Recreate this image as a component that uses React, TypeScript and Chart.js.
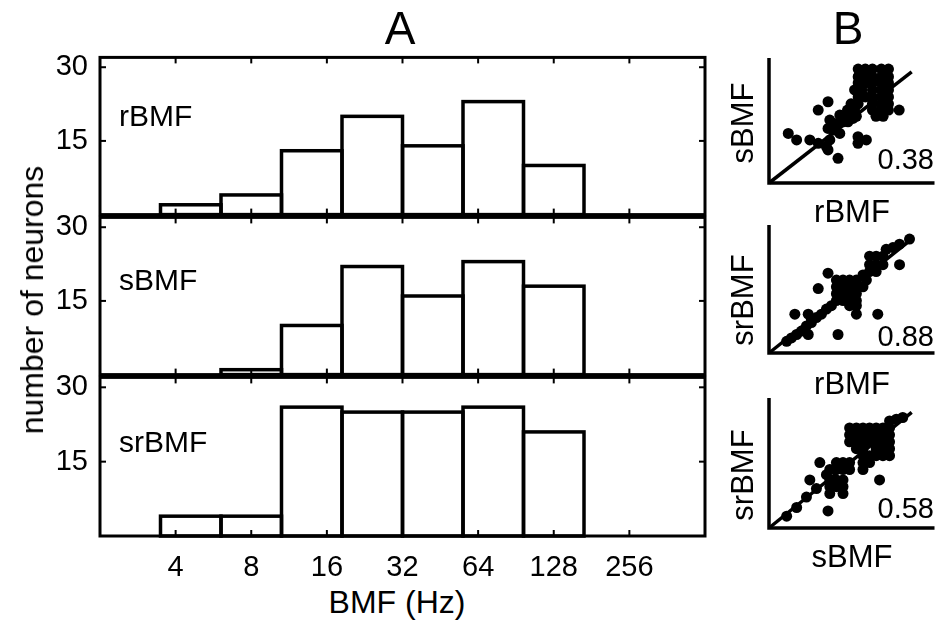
import React, { useEffect, useRef } from "react";
import { Chart, registerables } from "chart.js";

Chart.register(...registerables);

const FONT = "'Liberation Sans', Arial, Helvetica, sans-serif";

// ---- Panel A data (x in log2(BMF)) ----
const BIN_CENTERS = [2.2, 3.0, 3.8, 4.6, 5.4, 6.2, 7.0];
const X_TICKS = [2, 3, 4, 5, 6, 7, 8];
const X_TICK_LABELS = ["4", "8", "16", "32", "64", "128", "256"];
const Y_TICKS = [15, 30];
const R_BMF = [2, 4, 13, 20, 14, 23, 10];
const S_BMF = [0, 1, 10, 22, 16, 23, 18];
const SR_BMF = [4, 4, 26, 25, 25, 26, 21];

// ---- Panel B data ----
const IDENTITY = [0, 8];
const R_VS_S: number[][] = [
  [5.0, 8.2], [5.4, 8.2], [5.8, 8.2], [6.3, 8.2], [6.7, 8.2],
  [5.0, 7.65], [5.4, 7.65], [5.8, 7.65], [6.3, 7.65], [6.7, 7.65],
  [5.0, 7.2], [5.4, 7.2], [5.8, 7.2], [6.3, 7.2], [6.7, 7.2],
  [4.8, 6.7], [5.2, 6.7], [5.8, 6.7], [6.3, 6.7], [6.7, 6.7],
  [5.0, 6.2], [5.4, 6.2], [5.8, 6.2], [6.3, 6.2], [6.7, 6.2],
  [4.6, 5.7], [5.0, 5.7], [5.8, 5.7], [6.3, 5.7], [6.7, 5.7],
  [4.4, 5.25], [4.8, 5.25], [5.8, 5.25], [6.3, 5.25], [6.7, 5.25], [7.3, 5.25],
  [4.3, 4.8], [4.9, 4.8], [6.0, 4.8], [6.4, 4.8],
  [3.97, 4.89], [4.16, 4.41], [4.43, 4.41], [4.71, 4.65], [3.78, 4.29],
  [3.31, 3.93], [3.6, 3.81], [3.41, 4.53], [2.76, 5.25], [3.31, 5.85],
  [3.97, 3.57], [3.41, 3.1], [4.99, 3.33], [4.99, 2.86], [5.46, 3.1],
  [1.08, 3.57], [1.55, 3.1], [2.29, 3.1], [2.76, 2.86], [3.22, 2.62],
  [3.31, 2.38], [3.87, 1.78],
];
const R_VS_SR: number[][] = [
  [0.99, 0.82], [1.26, 1.06], [1.55, 1.3], [1.82, 1.54], [2.1, 1.9], [2.38, 2.14],
  [2.66, 2.49], [2.94, 2.73], [3.22, 3.09], [3.5, 3.33], [3.78, 3.69], [3.97, 4.05], [4.24, 4.29],
  [3.78, 5.13], [4.15, 5.13], [4.52, 5.13], [4.9, 5.13],
  [3.78, 4.65], [4.15, 4.65], [4.52, 4.65], [4.9, 4.65],
  [3.78, 4.17], [4.15, 4.17], [4.52, 4.17], [4.9, 4.17],
  [4.15, 3.69], [4.52, 3.69], [4.9, 3.69], [4.52, 3.33], [4.9, 3.33],
  [5.64, 6.81], [6.01, 6.81], [5.64, 6.21], [6.01, 6.21], [6.39, 6.21],
  [5.64, 5.73], [6.01, 5.73], [5.27, 5.49], [5.46, 5.13], [5.27, 4.65],
  [6.57, 7.29], [6.95, 7.41], [7.32, 7.65], [7.88, 8.01], [7.32, 6.21], [6.39, 6.81],
  [3.31, 5.61], [2.76, 4.53], [1.45, 2.73], [4.9, 2.73], [6.1, 2.73],
  [2.2, 1.3], [3.87, 1.3], [2.2, 2.73], [2.38, 2.38],
];
const S_VS_SR: number[][] = [
  [4.52, 6.93], [4.9, 6.93], [5.27, 6.93], [5.64, 6.93], [6.01, 6.93], [6.39, 6.93], [6.76, 6.93],
  [4.52, 6.45], [4.9, 6.45], [5.27, 6.45], [5.64, 6.45], [6.01, 6.45], [6.39, 6.45], [6.76, 6.45],
  [4.52, 5.97], [4.9, 5.97], [5.27, 5.97], [5.64, 5.97], [6.01, 5.97], [6.39, 5.97], [6.76, 5.97],
  [4.9, 5.49], [5.27, 5.49], [6.01, 5.49], [6.39, 5.49], [6.76, 5.49],
  [5.27, 5.01], [5.64, 5.01], [6.01, 5.01], [6.39, 5.01], [6.76, 5.01],
  [4.15, 4.53], [4.52, 4.53], [5.27, 4.53], [5.64, 4.53],
  [3.78, 4.05], [4.15, 4.05], [4.52, 4.05], [5.27, 4.05],
  [6.76, 7.41], [7.14, 7.53], [7.5, 7.65],
  [3.78, 4.53], [3.41, 4.05], [3.22, 3.69], [3.41, 3.33], [3.78, 3.33], [4.15, 3.33],
  [3.41, 2.86], [3.78, 2.86], [4.15, 2.86], [3.41, 2.38], [4.15, 2.38],
  [2.85, 4.53], [2.29, 3.33], [6.2, 3.33], [3.31, 1.18],
  [1.55, 1.42], [2.1, 2.14], [2.66, 2.73], [0.99, 0.82],
];

const histPlugin = {
  id: "histFrame",
  afterDraw(chart: any, _args: any, opts: any) {
    const { ctx, chartArea: a } = chart;
    const x = chart.scales.x;
    const y = chart.scales.y;
    const meta = chart.getDatasetMeta(0);
    const data = chart.data.datasets[0].data as any[];
    ctx.save();
    ctx.strokeStyle = "#000";
    ctx.lineJoin = "miter";
    ctx.lineWidth = 3.5;
    meta.data.forEach((el: any, i: number) => {
      if (!data[i] || !data[i].y) return;
      const p = el.getProps(["x", "y", "base", "width"], true);
      ctx.strokeRect(p.x - p.width / 2, p.y, p.width, p.base - p.y);
    });
    ctx.lineWidth = 3;
    ctx.strokeRect(a.left, a.top, a.right - a.left, a.bottom - a.top);
    ctx.lineWidth = 2;
    const line = (x1: number, y1: number, x2: number, y2: number) => {
      ctx.beginPath();
      ctx.moveTo(x1, y1);
      ctx.lineTo(x2, y2);
      ctx.stroke();
    };
    X_TICKS.forEach((v) => {
      const px = x.getPixelForValue(v);
      line(px, a.top, px, a.top + 6);
      line(px, a.bottom, px, a.bottom - 6);
    });
    Y_TICKS.forEach((v) => {
      const py = y.getPixelForValue(v);
      line(a.left, py, a.left + 6, py);
      line(a.right, py, a.right - 6, py);
    });
    ctx.fillStyle = "#000";
    ctx.font = `30px ${FONT}`;
    ctx.textBaseline = "middle";
    ctx.textAlign = "left";
    ctx.fillText(opts.label, a.left + 19, a.top + opts.labelOffset);
    ctx.restore();
  },
};

const scatterPlugin = {
  id: "scatterAxes",
  afterDraw(chart: any) {
    const { ctx, chartArea: a } = chart;
    ctx.save();
    ctx.strokeStyle = "#000";
    ctx.lineWidth = 3.5;
    ctx.beginPath();
    ctx.moveTo(a.left, a.top);
    ctx.lineTo(a.left, a.bottom);
    ctx.lineTo(a.right + 5, a.bottom);
    ctx.stroke();
    ctx.restore();
  },
};

type HistProps = { values: number[]; label: string; top: number; showX: boolean; labelOffset: number };

function Histogram({ values, label, top, showX, labelOffset }: HistProps) {
  const ref = useRef<HTMLCanvasElement>(null);
  const padTop = 20;
  const plotH = 160;
  const padBottom = showX ? 4 : 20;
  const axisH = showX ? 44 : 0;
  const height = padTop + plotH + axisH + padBottom;
  useEffect(() => {
    const chart = new Chart(ref.current as HTMLCanvasElement, {
      type: "bar",
      data: {
        datasets: [
          {
            data: BIN_CENTERS.map((x, i) => ({ x, y: values[i] })) as any,
            backgroundColor: "rgba(255,255,255,0)",
            borderWidth: 0,
            categoryPercentage: 1,
            barPercentage: 1,
          },
        ],
      },
      options: {
        animation: false,
        responsive: false,
        maintainAspectRatio: false,
        layout: { padding: { left: 0, right: 15, top: padTop, bottom: padBottom } },
        plugins: {
          legend: { display: false },
          tooltip: { enabled: false },
          histFrame: { label, labelOffset },
        } as any,
        scales: {
          x: {
            type: "linear",
            min: 1,
            max: 9,
            offset: false,
            display: showX,
            grid: { display: false, offset: false },
            border: { display: false },
            afterBuildTicks: (s: any) => {
              s.ticks = X_TICKS.map((v) => ({ value: v }));
            },
            afterFit: (s: any) => {
              if (showX) s.height = axisH;
            },
            ticks: {
              autoSkip: false,
              maxRotation: 0,
              padding: 7,
              color: "#000",
              font: { family: FONT, size: 29 },
              callback: (_v: any, i: number) => X_TICK_LABELS[i],
            },
          } as any,
          y: {
            min: 0,
            max: 32,
            grid: { display: false },
            border: { display: false },
            afterBuildTicks: (s: any) => {
              s.ticks = Y_TICKS.map((v) => ({ value: v }));
            },
            afterFit: (s: any) => {
              s.width = 100;
            },
            ticks: { padding: 4, color: "#000", font: { family: FONT, size: 29 } },
          } as any,
        },
      },
      plugins: [histPlugin],
    });
    return () => chart.destroy();
  }, []);
  return (
    <canvas
      ref={ref}
      width={720}
      height={height}
      style={{ position: "absolute", left: 0, top: top - padTop, width: 720, height }}
    />
  );
}

type ScatterProps = { points: number[][]; top: number; plotH: number };

function Scatter({ points, top, plotH }: ScatterProps) {
  const ref = useRef<HTMLCanvasElement>(null);
  const pad = 10;
  const height = plotH + pad * 2;
  useEffect(() => {
    const chart = new Chart(ref.current as HTMLCanvasElement, {
      type: "scatter",
      data: {
        datasets: [
          {
            type: "line",
            data: IDENTITY.map((v) => ({ x: v, y: v })),
            borderColor: "#000",
            borderWidth: 3.5,
            pointRadius: 0,
            clip: false,
          } as any,
          {
            data: points.map(([x, y]) => ({ x, y })),
            pointRadius: 5.5,
            pointBackgroundColor: "#000",
            pointBorderWidth: 0,
            backgroundColor: "#000",
            clip: false,
          } as any,
        ],
      },
      options: {
        animation: false,
        responsive: false,
        maintainAspectRatio: false,
        layout: { padding: { left: 69, right: 5, top: pad, bottom: pad } },
        plugins: { legend: { display: false }, tooltip: { enabled: false } },
        scales: {
          x: { type: "linear", min: 0, max: 9, display: false },
          y: { type: "linear", min: 0, max: 9, display: false },
        },
      },
      plugins: [scatterPlugin],
    });
    return () => chart.destroy();
  }, []);
  return (
    <canvas
      ref={ref}
      width={235}
      height={height}
      style={{ position: "absolute", left: 700, top: top - pad, width: 235, height }}
    />
  );
}

function Label({ x, y, size, text, rotate = false, anchor = "center" }: any) {
  const tx = anchor === "right" ? "-100%" : "-50%";
  return (
    <div
      style={{
        position: "absolute",
        left: x,
        top: y,
        fontFamily: FONT,
        fontSize: size,
        lineHeight: 1,
        whiteSpace: "nowrap",
        color: "#000",
        transform: `translate(${tx},-50%)${rotate ? " rotate(-90deg)" : ""}`,
      }}
    >
      {text}
    </div>
  );
}

export default function App() {
  return (
    <div
      style={{
        position: "fixed",
        left: 0,
        top: 0,
        width: 935,
        height: 620,
        background: "#fff",
        overflow: "hidden",
      }}
    >
      <Histogram values={R_BMF} label="rBMF" top={56} showX={false} labelOffset={60} />
      <Histogram values={S_BMF} label="sBMF" top={216} showX={false} labelOffset={64} />
      <Histogram values={SR_BMF} label="srBMF" top={376} showX={true} labelOffset={66} />
      <Scatter points={R_VS_S} top={58} plotH={125} />
      <Scatter points={R_VS_SR} top={225} plotH={128} />
      <Scatter points={S_VS_SR} top={398} plotH={130} />

      <Label x={400} y={28} size={46} text="A" />
      <Label x={848} y={28} size={46} text="B" />
      <Label x={32} y={300} size={32} text="number of neurons" rotate />
      <Label x={397} y={602} size={32} text="BMF (Hz)" />

      <Label x={742} y={123} size={31} text="sBMF" rotate />
      <Label x={852} y={211} size={31} text="rBMF" />
      <Label x={934} y={159} size={29} text="0.38" anchor="right" />

      <Label x={742} y={300} size={31} text="srBMF" rotate />
      <Label x={852} y={383} size={31} text="rBMF" />
      <Label x={934} y={336} size={29} text="0.88" anchor="right" />

      <Label x={742} y={475} size={31} text="srBMF" rotate />
      <Label x={852} y={556} size={31} text="sBMF" />
      <Label x={934} y={508} size={29} text="0.58" anchor="right" />
    </div>
  );
}
